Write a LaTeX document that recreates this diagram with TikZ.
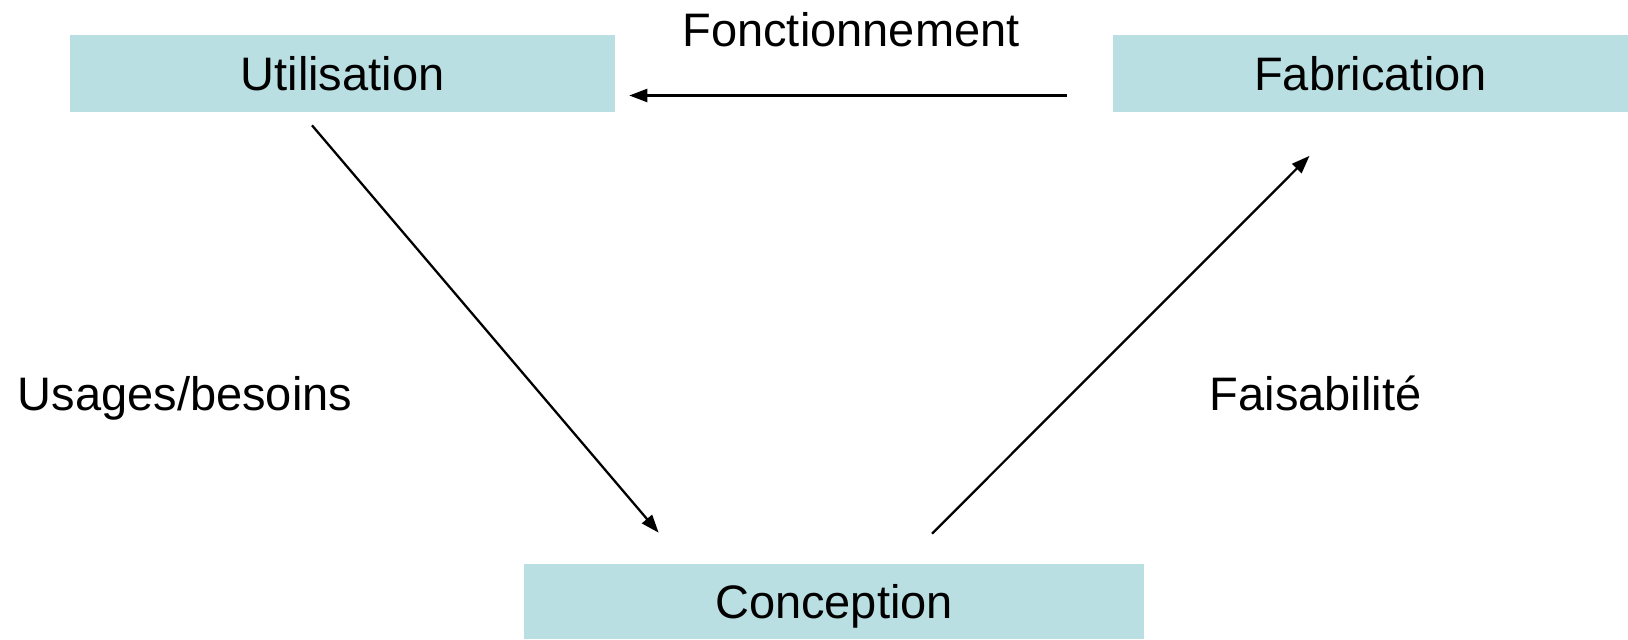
\documentclass[tikz,border=0pt]{standalone}
\usepackage{fontspec}
\setmainfont{Liberation Sans}
\usepackage{tikz}
\usetikzlibrary{arrows.meta}
\definecolor{boxblue}{RGB}{186,223,227}
\tikzstyle{phase} = [rectangle, inner sep=0pt, text height=19.15pt, text depth=0pt,
minimum height=1.54cm, text centered, fill=boxblue, font=\fontsize{26.75pt}{32pt}\selectfont]
\tikzstyle{lbl} = [inner sep=0pt, text height=19.15pt, text depth=0pt, font=\fontsize{26.75pt}{32pt}\selectfont]
\tikzstyle{arrow} = [line width=1.3pt,-{Triangle[length=0.36cm,width=0.26cm]}]

\begin{document}
\begin{tikzpicture}[x=0.02cm,y=-0.02cm]
                 \useasboundingbox (0,0) rectangle (1628,639);
                 \node (util) [phase, minimum width=10.9cm] at (342.5,73.5) {Utilisation};
                 \node (fab) [phase, minimum width=10.3cm] at (1370.5,73.5) {Fabrication};
                 \node (conc) [phase, minimum width=12.4cm, minimum height=1.5cm] at (834,601.5) {Conception};
                 \node (fonct) [lbl] at (851,29.5) {Fonctionnement};
                 \node (usages) [lbl] at (185,394) {Usages/besoins};
                 \node (faisab) [lbl] at (1315.5,394) {Faisabilité};
                 \draw [arrow] ([shift={(-46,22)}]fab.west) -- ([shift={(14,22)}]util.east);
                 \draw [arrow] ([shift={(-30.5,13)}]util.south) -- ([shift={(-175.4,-31)}]conc.north);
                 \draw [arrow] ([shift={(98,-30)}]conc.north) -- ([shift={(-61,43.5)}]fab.south);
             \end{tikzpicture}
\end{document}
